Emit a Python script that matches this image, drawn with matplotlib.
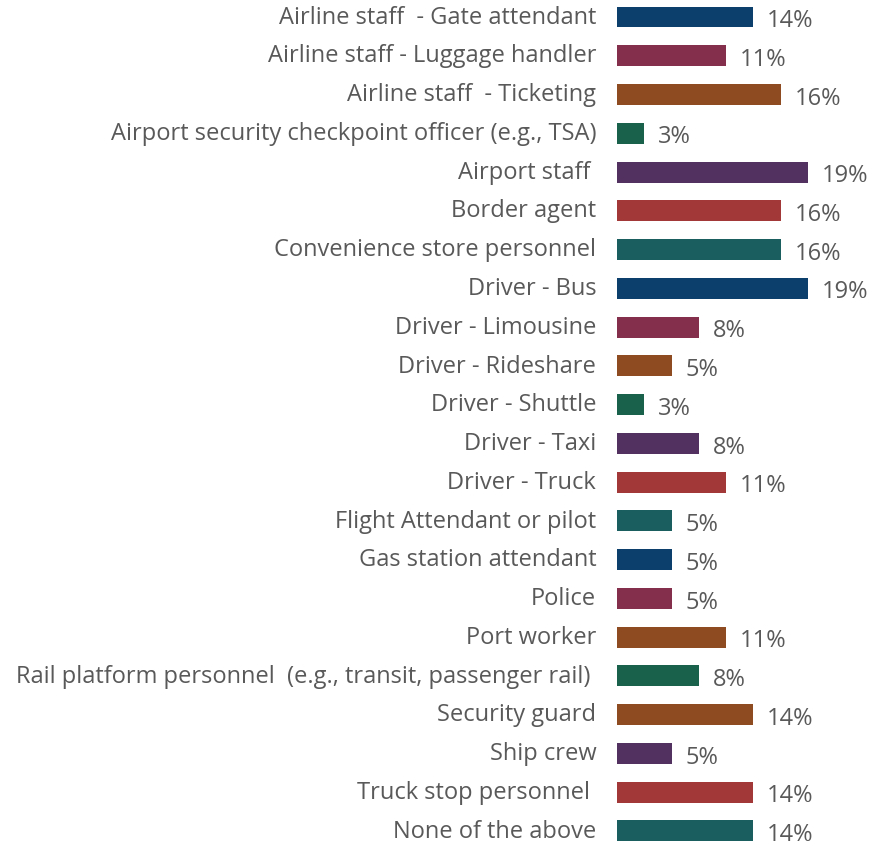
import matplotlib
matplotlib.use("Agg")
import matplotlib.pyplot as plt

categories = [
    "Airline staff  - Gate attendant",
    "Airline staff - Luggage handler",
    "Airline staff  - Ticketing",
    "Airport security checkpoint officer (e.g., TSA)",
    "Airport staff ",
    "Border agent",
    "Convenience store personnel",
    "Driver - Bus",
    "Driver - Limousine",
    "Driver - Rideshare",
    "Driver - Shuttle",
    "Driver - Taxi",
    "Driver - Truck",
    "Flight Attendant or pilot",
    "Gas station attendant",
    "Police",
    "Port worker",
    "Rail platform personnel  (e.g., transit, passenger rail) ",
    "Security guard",
    "Ship crew",
    "Truck stop personnel ",
    "None of the above",
]
values = [13.5, 10.8, 16.2, 2.7, 18.9, 16.2, 16.2, 18.9, 8.1, 5.4, 2.7, 8.1,
          10.8, 5.4, 5.4, 5.4, 10.8, 8.1, 13.5, 5.4, 13.5, 13.5]
value_labels = ["14%", "11%", "16%", "3%", "19%", "16%", "16%", "19%", "8%", "5%",
                "3%", "8%", "11%", "5%", "5%", "5%", "11%", "8%", "14%", "5%",
                "14%", "14%"]

navy, maroon, brown, green = "#0C3F6B", "#84304D", "#8E4A21", "#1A614B"
purple, red, teal = "#52305F", "#A33838", "#1A5E60"
colors = [navy, maroon, brown, green, purple, red, teal,
          navy, maroon, brown, green, purple, red, teal,
          navy, maroon, brown, green, brown, purple, red, teal]

W, H = 875, 848
fig = plt.figure(figsize=(W / 100, H / 100), dpi=100)
ax = fig.add_axes([617 / W, 0, 258 / W, 1])
step = 38.76
top = 17
ax.set_ylim((H - top) / step, -top / step)
ax.set_xlim(0, 258 / 10.1)

ys = list(range(len(categories)))
ax.barh(ys, values, height=0.54, color=colors)
txt_color = "#595959"
fs = 17
for y, v, lab, cat in zip(ys, values, value_labels, categories):
    ax.annotate(lab, (v, y), xytext=(10, -3), textcoords="offset points",
                ha="left", va="center", fontsize=fs, color=txt_color,
                family="Open Sans")
    ax.annotate(cat, (0, y), xytext=(-15, -0.5), textcoords="offset points",
                ha="right", va="center", fontsize=fs, color=txt_color,
                family="Open Sans", annotation_clip=False)
ax.axis("off")
fig.savefig("out.png", dpi=100)
